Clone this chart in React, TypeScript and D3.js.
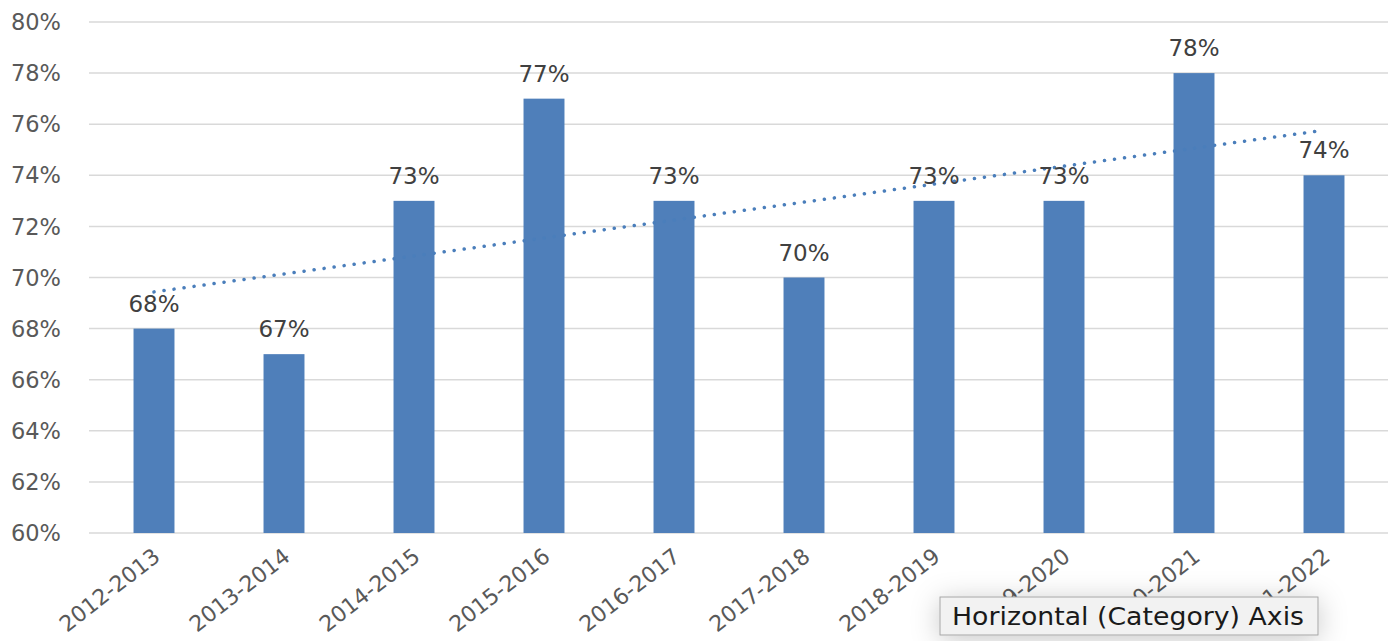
import React, { useEffect, useRef } from 'react';
import * as d3 from 'd3';

const seasons = ['2012-2013', '2013-2014', '2014-2015', '2015-2016', '2016-2017', '2017-2018', '2018-2019', '2019-2020', '2020-2021', '2021-2022'];
const rates = [68, 67, 73, 77, 73, 70, 73, 73, 78, 74];
const yTicks = [60, 62, 64, 66, 68, 70, 72, 74, 76, 78, 80];
const tooltipText = 'Horizontal (Category) Axis';

const App = () => {
  const svgRef = useRef<SVGSVGElement>(null);

  useEffect(() => {
    document.body.style.margin = '0';
    const width = 1388;
    const height = 641;
    const margin = { top: 22, right: -1, bottom: 108, left: 89 };
    const chartWidth = width - margin.left - margin.right;
    const chartHeight = height - margin.top - margin.bottom;
    const font = 'DejaVu Sans, sans-serif';

    const svg = d3.select(svgRef.current).attr('width', width).attr('height', height);
    svg.selectAll('*').remove();

    const x = d3.scaleBand().domain(seasons).range([0, chartWidth]).paddingInner(0.685).paddingOuter(0.3425);
    const y = d3.scaleLinear().domain([60, 80]).range([chartHeight, 0]);

    const g = svg.append('g').attr('transform', `translate(${margin.left},${margin.top})`);

    g.selectAll('.grid')
      .data(yTicks)
      .enter()
      .append('line')
      .attr('x1', 0)
      .attr('x2', chartWidth)
      .attr('y1', d => y(d))
      .attr('y2', d => y(d))
      .attr('stroke', '#d9d9d9')
      .attr('stroke-width', 1.5);

    g.selectAll('.ytick')
      .data(yTicks)
      .enter()
      .append('text')
      .attr('x', -28)
      .attr('y', d => y(d))
      .attr('dy', '0.36em')
      .attr('text-anchor', 'end')
      .attr('font-family', font)
      .attr('font-size', 22.5)
      .attr('fill', '#595959')
      .text(d => `${d}%`);

    g.selectAll('.bar')
      .data(rates)
      .enter()
      .append('rect')
      .attr('x', (d, i) => x(seasons[i]) as number)
      .attr('y', d => y(d))
      .attr('width', x.bandwidth())
      .attr('height', d => chartHeight - y(d))
      .attr('fill', '#4f7fba');

    // linear trendline
    const idx = rates.map((_, i) => i);
    const mx = d3.mean(idx) as number;
    const my = d3.mean(rates) as number;
    const slope = d3.sum(idx, i => (i - mx) * (rates[i] - my)) / d3.sum(idx, i => (i - mx) ** 2);
    const icpt = my - slope * mx;
    const cx = (i: number) => (x(seasons[i]) as number) + x.bandwidth() / 2;
    g.append('path')
      .attr('d', d3.line<number>().x(i => cx(i)).y(i => y(icpt + slope * i))([0, idx.length - 1]))
      .attr('stroke', '#4a7ebb')
      .attr('stroke-width', 3.5)
      .attr('stroke-linecap', 'round')
      .attr('stroke-dasharray', '0.1 10')
      .attr('fill', 'none');

    g.selectAll('.label')
      .data(rates)
      .enter()
      .append('text')
      .attr('x', (d, i) => cx(i))
      .attr('y', d => y(d) - 17)
      .attr('text-anchor', 'middle')
      .attr('font-family', font)
      .attr('font-size', 23)
      .attr('fill', '#404040')
      .text(d => `${d}%`);

    g.selectAll('.xtick')
      .data(seasons)
      .enter()
      .append('text')
      .attr('transform', (d, i) => `translate(${cx(i) - 2},${chartHeight + 14}) rotate(-38)`)
      .attr('text-anchor', 'end')
      .attr('dy', '0.7em')
      .attr('font-family', font)
      .attr('font-size', 22)
      .attr('fill', '#595959')
      .text(d => d);

    // tooltip
    const defs = svg.append('defs');
    const filter = defs.append('filter').attr('id', 'shadow').attr('x', '-30%').attr('y', '-150%').attr('width', '160%').attr('height', '400%');
    filter.append('feDropShadow').attr('dx', 0).attr('dy', 4).attr('stdDeviation', 14).attr('flood-color', '#000').attr('flood-opacity', 0.22);

    const tip = svg.append('g').attr('transform', 'translate(940,597)');
    tip.append('rect')
      .attr('width', 378)
      .attr('height', 38)
      .attr('fill', '#f2f2f2')
      .attr('stroke', '#a6a6a6')
      .attr('filter', 'url(#shadow)');
    tip.append('text')
      .attr('x', 12)
      .attr('y', 28)
      .attr('font-family', font)
      .attr('font-size', 25)
      .attr('textLength', 352)
      .attr('lengthAdjust', 'spacingAndGlyphs')
      .attr('fill', '#1a1a1a')
      .text(tooltipText);
  }, []);

  return (
    <div>
      <svg ref={svgRef}></svg>
    </div>
  );
};

export default App;
